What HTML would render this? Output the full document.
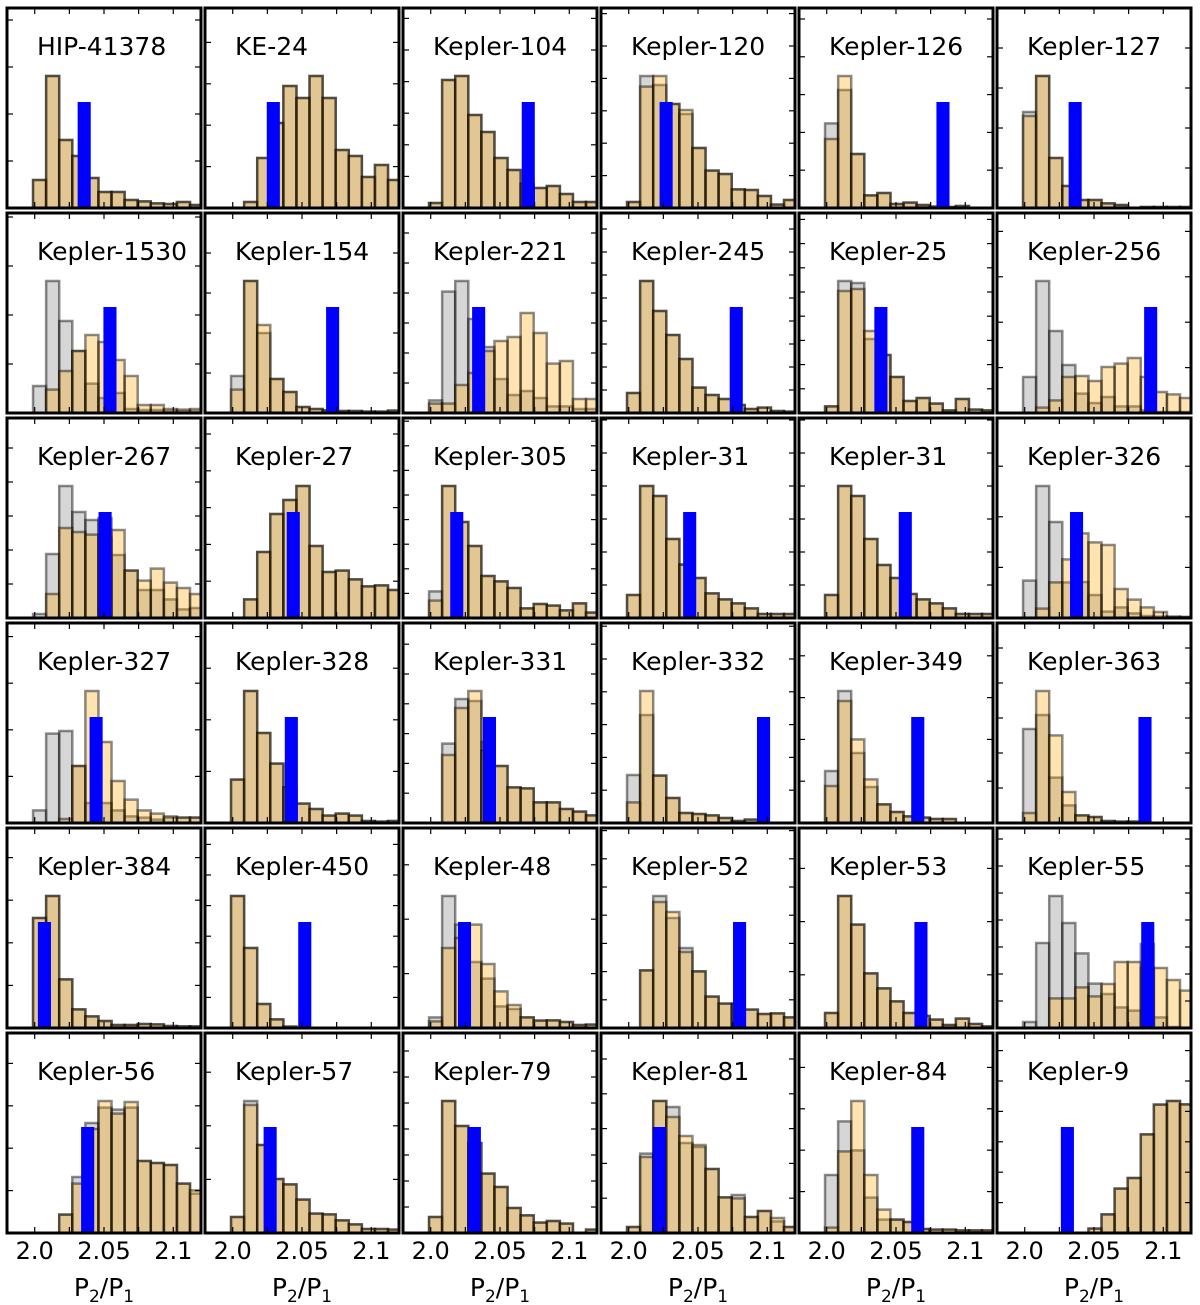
<!DOCTYPE html>
<html><head><meta charset="utf-8"><style>
html,body{margin:0;padding:0;background:#fff;}
svg{display:block;}
text{font-family:"DejaVu Sans","Liberation Sans",sans-serif;fill:#000;}
</style></head><body>
<svg id="chart" width="1200" height="1305" viewBox="0 0 1200 1305" xmlns="http://www.w3.org/2000/svg"></svg>
<script>
const systemNames = ["HIP-41378","KE-24","Kepler-104","Kepler-120","Kepler-126","Kepler-127",
"Kepler-1530","Kepler-154","Kepler-221","Kepler-245","Kepler-25","Kepler-256",
"Kepler-267","Kepler-27","Kepler-305","Kepler-31","Kepler-31","Kepler-326",
"Kepler-327","Kepler-328","Kepler-331","Kepler-332","Kepler-349","Kepler-363",
"Kepler-384","Kepler-450","Kepler-48","Kepler-52","Kepler-53","Kepler-55",
"Kepler-56","Kepler-57","Kepler-79","Kepler-81","Kepler-84","Kepler-9"];
const binStart = 1.9988;
const binWidth = 0.00944;
const xTickValues = [2.0,2.025,2.05,2.075,2.1];
const xTickLabels = ["2.0","2.05","2.1"];
const xTickLabelValues = [2.0,2.05,2.1];
const observedRatio = [2.0357,2.0293,2.0704,2.027,2.0839,2.0364,
2.0543,2.0721,2.0346,2.0776,2.0391,2.0909,
2.0508,2.0437,2.0188,2.044,2.0567,2.0374,
2.0443,2.0423,2.0424,2.0973,2.0657,2.0868,
2.007,2.052,2.0244,2.08,2.068,2.0888,
2.0382,2.027,2.0315,2.0221,2.0657,2.0308];
const observedHeight = 53;
const yTickSteps = [23.5,20.7,15.8,16.2,18.9,20,
24.5,20,15,11.5,12.1,22.7,
17,18.4,12.3,16.5,16.5,25.3,
23.3,25.8,14.9,16.4,20.9,17.5,
21.3,15.3,27.2,14.1,26.6,13.5,
21.2,26.8,13,17.4,20.7,15.2];
const grayCounts = [
[14,66,34,26,15,8,8,4,3.3,2.3,2,3,1.5],
[0,3,25,42.5,61,55,66,55,29,26,15.5,21.5,14],
[2.5,64,66,46.5,38,25,19,12,10,11,7,3,3],
[3,66,61.5,52,47,30,18.7,17,9.3,9,6,1.7,4],
[42.3,59,27,6.3,7.5,2,2.7,1.5,0.7,0.5,1,0,0],
[48,66,25,11,4,4,2.3,1.5,0,0.5,0.5,0.5,0.5],
[13.5,66,46,31,14.7,7.5,10,2,1.5,1.5,1,1,1],
[18.5,66,40,17,10.5,3,2,1.3,1,1,0.7,0.7,1.2],
[6.3,60.7,66,47,33,17,9,11,7.5,3.3,3.3,2,2],
[10,66,51,39,27,12.7,9,7,4,2,2.7,1,0.7],
[3.3,66,65,37,29,18,6,7.5,4.7,1.3,7,1.7,1.3],
[18,66,41,24,9.7,5,8,3.3,3.3,1.3,0.5,0.5,0.5],
[2,32,66,53,49,40,31.5,23.7,14,14,9.3,4.3,5],
[0,9.3,33,52,59,66,36,23,23.7,19.3,15.8,16.3,14],
[13.3,66,48,36,21,18.3,15,4.8,7,6.2,3.8,7.3,2.7],
[11.5,66,61,39.5,26.7,20,12.3,9.3,7.3,4.8,2,2,2],
[11.5,66,61,39.5,26.5,20,12,9.3,7.3,4.8,2,2,2],
[18.7,66,48,17.8,18,11.5,3.2,5.3,2.3,1,0.7,0.5,0.5],
[6.3,44.7,46,28.5,10,10,6.3,3.3,2.7,1.7,2.7,2.7,2.7],
[21.7,66,45,29.7,17.8,9.7,7,3.7,4.7,3.7,1,0.7,1],
[0,39.7,62,61,40.5,28.5,17.8,17.3,10.3,10.3,7,5.7,3.8],
[24,54,23.7,12.5,5,4.5,3.8,2.5,1,1.7,0,0,0],
[26,66,35,18,9.3,5.5,3.3,2.7,2,2,0,0,0],
[47,54,22.7,8.8,3.8,3,1,0.7,0.7,0,0,0,0],
[55,66,24.3,9.3,5.8,3.5,1.5,1.5,2,1.8,1,0.8,0.8],
[66,40,12,4.3,0.7,0,0,0,0,0,0,0,0],
[5.3,66,51.7,33,24.7,10.8,9.5,5.3,3.7,3.8,3,1.5,1.7],
[0,28.8,66,55,40,28.3,15.7,12.2,12,9.2,7,7.3,5.3],
[7.5,66,51.7,27.3,19.8,13.3,7.5,6,4.2,1.5,4.7,2,0.8],
[3,42.5,66,52.5,37.3,22.2,17,10.3,8.7,42,5.3,0.5,0],
[0,0,9.2,28,55,62.7,61.7,62.7,36,35,34,24.7,19.7],
[8,66,44,27,24.3,16.7,9.7,9.3,6.3,4.3,2,2,1.7],
[8,66,53.5,45,29.7,23,12.5,8.8,5.2,6,4.7,0,1.7],
[3,39.7,66,63,45,43,32,17.8,19,8,11,5.8,3],
[29,55.8,41.3,17.7,6.7,6.7,5.5,2,1.7,1.7,1.3,1.3,1.3],
[0,0,0,0,0,2.2,9.3,22.2,27.5,49.3,64.2,66,64.3]];
const orangeCounts = [
[14,66,34,26,15,8,8,4,3.3,2.3,2,3,1.5],
[0,3,25,42.5,61,55,66,55,29,26,15.5,21.5,14],
[2.5,64,66,46.5,38,25,19,12,10,11,7,3,3],
[3,60.7,66,52,49,30,18.7,17,9.3,9,6,1.7,4],
[34.5,66,27,6.3,7.5,2,2.7,1.5,0.7,0.5,1,0,0],
[46,66,25,11,4,4,2.3,1.5,0,0.5,0.5,0.5,0.5],
[0,11.7,21,31,39,35.5,26.5,18.5,4,4,2,1.7,2],
[11.7,66,44,17,10.5,3,2,1.3,1,1,0.7,0.7,1.2],
[4.7,4.7,14,20,31,36,38,50,40,24.7,26,7,7],
[10,66,51,39,27,12.7,9,7,4,2,2.7,1,0.7],
[3.3,61,62,41,29,18,6,7.5,4.7,1.3,7,1.7,1.3],
[0,2.7,6.3,18,18.5,16,23,24.7,27.5,18,10.5,9.3,7.5],
[0,12,45,43,41.7,50,44,23.7,18.7,24.7,17.7,15,12],
[0,9.3,33,52,59,66,36,23,23.7,19.3,15.8,16.3,14],
[8.7,66,48,36,21,18.3,15,4.8,7,6.2,3.8,7.3,2.7],
[11.5,66,61,39.5,26.7,20,12.3,9.3,7.3,4.8,2,2,2],
[11.5,66,61,39.5,26.5,20,12,9.3,7.3,4.8,2,2,2],
[0,4.7,17.8,29.3,42.3,37.8,36.5,14.5,9.2,5.3,3,0.7,0.5],
[0,0,2,28.5,66,40.5,21,11.7,6.3,4.7,3.3,2.7,2.7],
[21.7,66,45,29.7,17.8,9.7,7,3.7,4.7,3.7,1,0.7,1],
[0,34,57.5,66,36,28.5,17.8,17.3,10.3,10.3,7,5.7,3.8],
[10.3,66,23.7,12.5,5,4.5,3.8,2.5,1,1.7,0,0,0],
[18.5,61,41.8,21.8,9.3,5.5,3.3,2.7,2,2,0,0,0],
[5,66,43.8,15.5,3.8,3,1,0.7,0.7,0,0,0,0],
[55,66,24.3,9.3,5.8,3.5,1.5,1.5,2,1.8,1,0.8,0.8],
[66,40,12,4.3,0.7,0,0,0,0,0,0,0,0],
[3.3,40,45,51.7,32,18.3,11.5,5.3,3.7,3.8,3,1.5,1.7],
[0,28.8,63,58,38,28.3,15.7,12.2,12,9.2,7,7.3,5.3],
[7.5,66,51.7,27.3,19.8,13.3,7.5,6,4.2,1.5,4.7,2,0.8],
[0,0,14.8,14.8,20.3,15.8,22,33,33,30,30,24,18.7],
[0,0,9.2,24.7,52,66,59.7,65.5,36,35,34,24.7,21.3],
[8,64,44,27,24.3,16.7,9.7,9.3,6.3,4.3,2,2,1.7],
[8,66,53.5,45,29.7,23,12.5,8.8,5.2,6,4.7,0,1.7],
[3,38,66,58,48.5,44,32,17.8,17.3,8,11,7.5,3],
[2.7,40.8,66,29,11.7,6.7,5.5,2,1.7,1.7,1.3,1.3,1.3],
[0,0,0,0,0,2.2,9.3,22.2,27.5,49.3,64.2,66,64.3]];

const NS = "http://www.w3.org/2000/svg";
const svg = document.getElementById("chart");
const X0 = 1.98, X1 = 2.12, PW = 194, PH = 200;
const colLeft = [7,205,403,601,799,997];
const rowTop = [8,213,418,623,828,1033];
function mk(tag, attrs, parent){
  const e = document.createElementNS(NS, tag);
  for (const k in attrs) e.setAttribute(k, attrs[k]);
  parent.appendChild(e);
  return e;
}
const defs = mk("defs", {}, svg);

systemNames.forEach((name, i) => {
  const c = i % 6, r = Math.floor(i / 6);
  const L = colLeft[c], T = rowTop[r];
  const xs = v => L + (v - X0) / (X1 - X0) * PW;
  const ys = v => T + PH - v / 100 * PH;
  const g = mk("g", {}, svg);
  
  
  const cp = mk("clipPath", {id: "cp" + i}, defs);
  mk("rect", {x: L, y: T, width: PW, height: PH}, cp);
  const bars = mk("g", {"clip-path": "url(#cp" + i + ")"}, g);
  const series = [[grayCounts[i], "#999999", 0.4, "gray"], [orangeCounts[i], "#ffa500", 0.3, "orange"]];
  series.forEach(([vals, col, op, lab]) => {
    vals.forEach((v, b) => {
      if (v <= 0) return;
      const x0 = xs(binStart + b * binWidth), x1 = xs(binStart + (b + 1) * binWidth);
      const rc = mk("rect", {x: x0, y: ys(v), width: x1 - x0, height: ys(0) - ys(v),
        fill: col, "fill-opacity": op, stroke: "#000", "stroke-opacity": 0.45, "stroke-width": 2.5}, bars);
      
      
    });
  });
  const ob = mk("rect", {x: xs(observedRatio[i] - binWidth / 2), y: ys(observedHeight),
    width: xs(binWidth) - xs(0), height: ys(0) - ys(observedHeight), fill: "#0000ff"}, bars);
  
  
  const tk = mk("g", {stroke: "#000", "stroke-width": 1.2}, g);
  xTickValues.forEach(v => {
    mk("line", {x1: xs(v), x2: xs(v), y1: T, y2: T + 6}, tk);
    mk("line", {x1: xs(v), x2: xs(v), y1: T + PH, y2: T + PH - 6}, tk);
  });
  for (let v = yTickSteps[i]; v < 100; v += yTickSteps[i]) {
    mk("line", {x1: L, x2: L + 6, y1: ys(v), y2: ys(v)}, tk);
    mk("line", {x1: L + PW, x2: L + PW - 6, y1: ys(v), y2: ys(v)}, tk);
  }
  const fr = mk("rect", {x: L, y: T, width: PW, height: PH, fill: "none", stroke: "#000", "stroke-width": 3}, g);
  
  
  const t = mk("text", {x: L + 30, y: T + 47, "font-size": 25}, g);
  t.textContent = name;
  
  
  if (r === 5) {
    xTickLabelValues.forEach((v, k) => {
      const tl = mk("text", {x: xs(v), y: 1259, "font-size": 24, "text-anchor": "middle"}, svg);
      tl.textContent = xTickLabels[k];
      
      
    });
    const xl = mk("text", {x: L + PW / 2, y: 1296, "font-size": 25, "text-anchor": "middle"}, svg);
    
    
    const parts = [["P", 0, 25], ["2", 6, 17], ["/P", -6, 25], ["1", 6, 17]];
    parts.forEach(([s, dy, fs]) => {
      const ts = mk("tspan", {dy: dy, "font-size": fs}, xl);
      ts.textContent = s;
    });
  }
});
</script>
</body></html>
